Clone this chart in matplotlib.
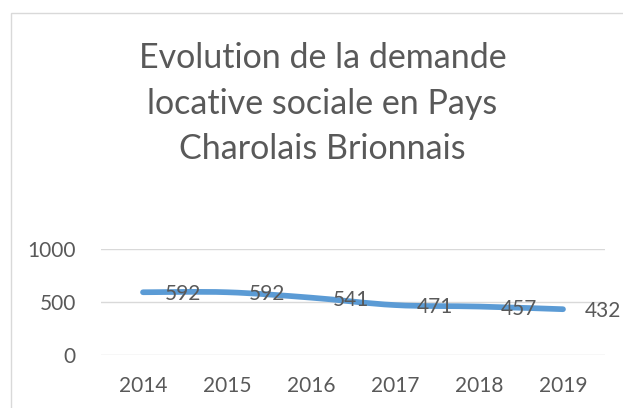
import numpy as np
import matplotlib
matplotlib.use('Agg')
import matplotlib.pyplot as plt
from matplotlib.path import Path
from matplotlib.patches import PathPatch, Rectangle

years = ['2014', '2015', '2016', '2017', '2018', '2019']
demande = [592, 592, 541, 471, 457, 432]
title_lines = ['Evolution de la demande', 'locative sociale en Pays', 'Charolais Brionnais']
yticks = [0, 500, 1000]

plt.rcParams['font.family'] = ['Lato', 'DejaVu Sans']
txt = '#595959'
W, H = 623, 408

fig = plt.figure(figsize=(W / 100, H / 100), dpi=100)
fig.patches.append(Rectangle((11 / W, -0.1), 1.2, 1 - 13 / H + 0.1, transform=fig.transFigure,
                             fill=False, edgecolor='#D9D9D9', linewidth=1.0))

for line, yb in zip(title_lines, [68, 114, 159]):
    fig.text(322.5 / W, 1 - yb / H, line, ha='center', va='baseline', fontsize=24.5, color=txt)

ax = fig.add_axes([101 / W, 1 - 355 / H, 504 / W, 106 / H])
x = np.arange(len(years))
y = np.array(demande, dtype=float)

# smoothed line like Excel (bezier segments through the points)
verts = [(x[0], y[0])]
codes = [Path.MOVETO]
n = len(x)
for i in range(n - 1):
    p0 = np.array([x[max(i - 1, 0)], y[max(i - 1, 0)]])
    p1 = np.array([x[i], y[i]])
    p2 = np.array([x[i + 1], y[i + 1]])
    p3 = np.array([x[min(i + 2, n - 1)], y[min(i + 2, n - 1)]])
    c1 = p1 + (p2 - p0) / 6
    c2 = p2 - (p3 - p1) / 6
    verts += [tuple(c1), tuple(c2), tuple(p2)]
    codes += [Path.CURVE4] * 3
ax.add_patch(PathPatch(Path(verts, codes), fill=False, edgecolor='#5B9BD5',
                       linewidth=4.1, capstyle='round', joinstyle='round', zorder=3))

for xi, yi in zip(x, demande):
    ax.annotate(str(yi), (xi, yi), xytext=(16, -1.5), textcoords='offset points',
                ha='left', va='center', fontsize=15, color=txt, zorder=4,
                annotation_clip=False)

ax.set_xlim(-0.5, n - 0.5)
ax.set_ylim(0, 1000)
ax.set_xticks(x)
ax.set_xticklabels(years)
ax.set_yticks(yticks)
ax.tick_params(length=0, labelsize=15, labelcolor=txt)
ax.tick_params(axis='y', pad=18)
ax.tick_params(axis='x', pad=15)
ax.grid(axis='y', color='#D9D9D9', linewidth=1.0)
ax.set_axisbelow(True)
for s in ax.spines.values():
    s.set_visible(False)
ax.patch.set_alpha(0)

fig.savefig('out.png', dpi=100)
